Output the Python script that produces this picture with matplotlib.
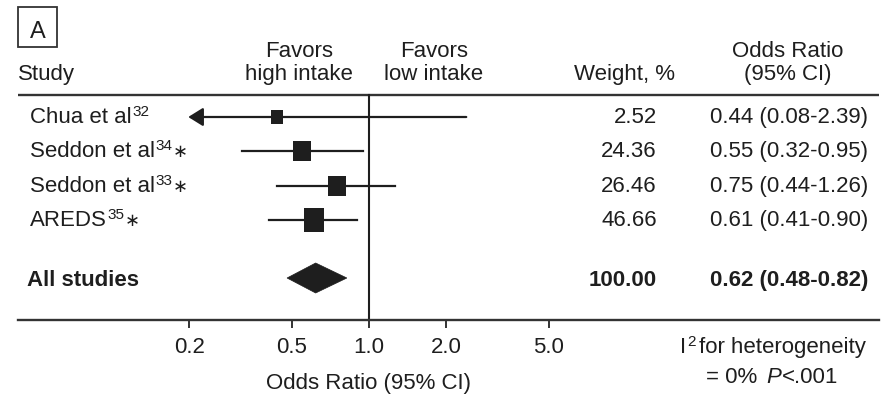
import numpy as np
import matplotlib
matplotlib.use("Agg")
import matplotlib.pyplot as plt
from matplotlib.transforms import IdentityTransform
from matplotlib.path import Path
from matplotlib.patches import Rectangle, Polygon

# ---------------- data ----------------
studies = ["Chua et al", "Seddon et al", "Seddon et al", "AREDS"]
refs = ["32", "34", "33", "35"]
starred = [False, True, True, True]
weights = [2.52, 24.36, 26.46, 46.66]
or_vals = [0.44, 0.55, 0.75, 0.61]
ci_lo = [0.08, 0.32, 0.44, 0.41]
ci_hi = [2.39, 0.95, 1.26, 0.90]
pooled_label = "All studies"
pooled_weight = 100.00
pooled_or = 0.62
pooled_lo = 0.48
pooled_hi = 0.82
tick_vals = [0.2, 0.5, 1.0, 2.0, 5.0]
tick_labels = ["0.2", "0.5", "1.0", "2.0", "5.0"]

# ---------------- style / layout ----------------
W, H = 881, 400
FS = 16
SUP = 11
INK = "#1e1e1e"
plt.rcParams["font.family"] = ["Liberation Sans", "DejaVu Sans"]
plt.rcParams["text.color"] = INK

fig = plt.figure(figsize=(W / 100, H / 100), dpi=100)
AX_L, AX_R = 18, 879
REF_X, DECADE = 369, 257
ax = fig.add_axes([AX_L / W, 0, (AX_R - AX_L) / W, 1])
ax.set_xscale("log")
ax.set_xlim(10 ** ((AX_L - REF_X) / DECADE), 10 ** ((AX_R - REF_X) / DECADE))
ax.set_ylim(H, 0)
ax.patch.set_alpha(0)

row_y = [117, 151, 186, 220]
pool_y = 278
top_line_y = 95
axis_y = 320
clip_lo = 0.198

for s in ["top", "left", "right"]:
    ax.spines[s].set_visible(False)
ax.spines["bottom"].set_position(("data", axis_y))
ax.spines["bottom"].set_linewidth(1.7)
ax.spines["bottom"].set_color("#333333")
ax.set_yticks([])
ax.xaxis.set_major_locator(matplotlib.ticker.FixedLocator(tick_vals))
ax.xaxis.set_minor_locator(matplotlib.ticker.NullLocator())
ax.set_xticklabels(tick_labels)
ax.tick_params(axis="x", direction="out", length=6, width=1.4, color="#333333",
               pad=6, labelsize=FS, labelcolor=INK)
ax.set_xlabel("Odds Ratio (95% CI)", fontsize=FS, color=INK)
ax.xaxis.set_label_coords((REF_X - AX_L) / (AX_R - AX_L), 1 - 384 / H)
ax.xaxis.label.set_verticalalignment("center")

ax.axhline(top_line_y, color="#333333", lw=1.7)
ax.plot([1.0, 1.0], [top_line_y, axis_y], color=INK, lw=1.5, zorder=2)

# box marker (slightly taller than wide)
aspect = 0.86
box_path = Path([(-aspect / 2, -0.5), (aspect / 2, -0.5), (aspect / 2, 0.5),
                 (-aspect / 2, 0.5), (-aspect / 2, -0.5)],
                [Path.MOVETO, Path.LINETO, Path.LINETO, Path.LINETO, Path.CLOSEPOLY])

for i in range(len(studies)):
    y = row_y[i]
    lo, hi = ci_lo[i], ci_hi[i]
    if lo < clip_lo:
        ax.annotate("", xy=(clip_lo, y), xytext=(hi, y),
                    arrowprops=dict(arrowstyle="-|>,head_length=0.45,head_width=0.28",
                                    mutation_scale=20, color=INK, lw=1.6,
                                    shrinkA=0, shrinkB=0), zorder=3)
    else:
        ax.plot([lo, hi], [y, y], color=INK, lw=1.6, zorder=3)
    h_px = 11.8 + 1.72 * np.sqrt(weights[i])
    ax.plot([or_vals[i]], [y], marker=box_path, markersize=h_px * 0.72,
            color=INK, markeredgewidth=0, linestyle="none", zorder=4)

half_h = 15
ax.add_patch(Polygon([(pooled_lo, pool_y), (pooled_or, pool_y - half_h),
                      (pooled_hi, pool_y), (pooled_or, pool_y + half_h)],
                     closed=True, facecolor=INK, edgecolor=INK, lw=0.5, zorder=4))

# ---------------- text ----------------
renderer = fig.canvas.get_renderer()
ident = IdentityTransform()


def text_px(x, yb, s, ha="left", size=FS, **kw):
    return fig.text(x, H - yb, s, transform=ident, ha=ha, va="baseline",
                    fontsize=size, **kw)


def runs_px(x, yb, runs, ha="left"):
    """runs: list of (string, size, dy_px, extra kwargs, gap_after_px)"""
    objs = []
    widths = []
    for s, size, dy, kw, gap in runs:
        t = fig.text(0, 0, s, transform=ident, ha="left", va="baseline",
                     fontsize=size, **kw)
        objs.append((t, dy))
        widths.append(t.get_window_extent(renderer).width + gap)
    total = sum(widths)
    if ha == "center":
        cx = x - total / 2
    elif ha == "right":
        cx = x - total
    else:
        cx = x
    for (t, dy), w in zip(objs, widths):
        t.set_position((cx, H - yb + dy))
        cx += w


# panel label
fig.patches.append(Rectangle((18, H - 47), 39, 40, transform=ident, fill=False,
                             edgecolor="#333333", lw=1.3, figure=fig))
text_px(37.5, 38, "A", ha="center", size=17)

hdr2 = 80
hdr1 = 57
text_px(18, hdr2, "Study")
text_px(299, hdr1, "Favors", ha="center")
text_px(299, hdr2, "high intake", ha="center")
text_px(434, hdr1, "Favors", ha="center")
text_px(434, hdr2, "low intake", ha="center")
text_px(675, hdr2, "Weight, %", ha="right")
text_px(788, hdr1, "Odds Ratio", ha="center")
text_px(788, hdr2, "(95% CI)", ha="center")

base_off = 6
for i in range(len(studies)):
    yb = row_y[i] + base_off
    runs = [(studies[i], FS, 0, {}, 0.5), (refs[i], SUP, 7, {}, 0.5)]
    if starred[i]:
        runs.append(("\u2217", 13, 0, {}, 0))
    runs_px(30, yb, runs)
    text_px(657, yb, f"{weights[i]:.2f}", ha="right")
    text_px(868, yb, f"{or_vals[i]:.2f} ({ci_lo[i]:.2f}-{ci_hi[i]:.2f})", ha="right")

pyb = pool_y + base_off + 2
text_px(27, pyb, pooled_label, fontweight="bold")
text_px(657, pyb, f"{pooled_weight:.2f}", ha="right", fontweight="bold")
text_px(868, pyb, f"{pooled_or:.2f} ({pooled_lo:.2f}-{pooled_hi:.2f})", ha="right",
        fontweight="bold")

runs_px(773, 353, [("I", FS, 0, {}, 0.5), ("2", SUP, 7, {}, 3),
                   ("for heterogeneity", FS, 0, {}, 0)], ha="center")
runs_px(772, 383, [("= 0%", FS, 0, {}, 9), ("P", FS, 0, {"fontstyle": "italic"}, 1),
                   ("<.001", FS, 0, {}, 0)], ha="center")

fig.savefig("out.png", dpi=100)
